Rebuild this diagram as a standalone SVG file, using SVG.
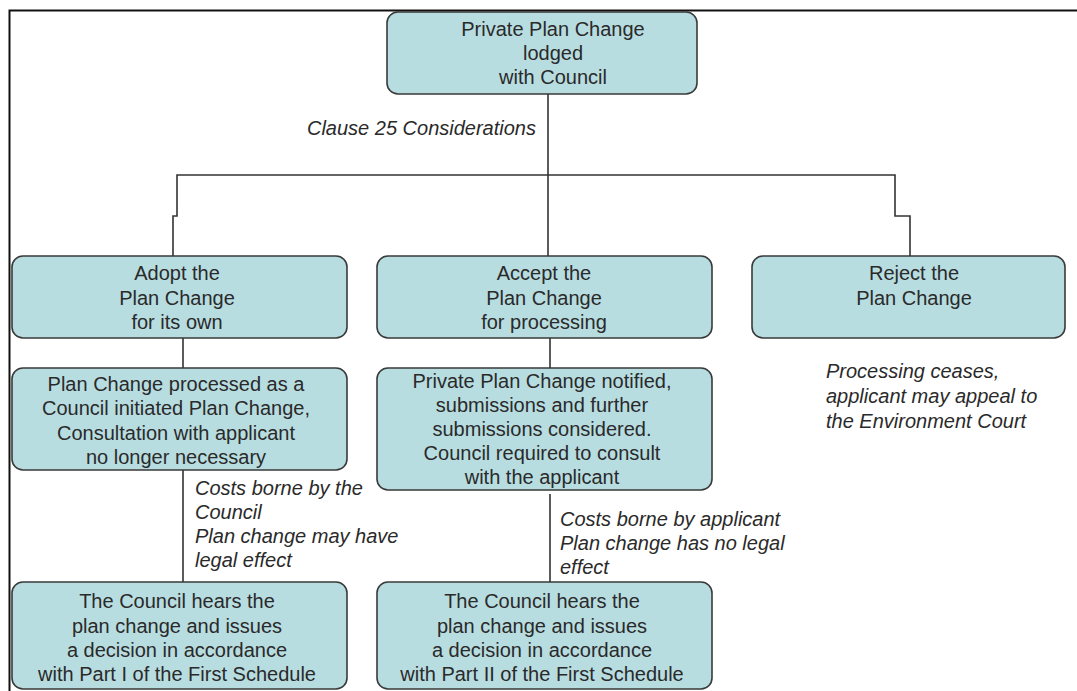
<svg xmlns="http://www.w3.org/2000/svg" width="1077" height="691" viewBox="0 0 1077 691">
<style>
.box{fill:#b8dde1;stroke:#3a3a3a;stroke-width:1.6}
.t{font-family:"Liberation Sans",Arial,sans-serif;font-size:20px;fill:#2a2a2a;text-anchor:middle}
.n{font-family:"Liberation Sans",Arial,sans-serif;font-size:20px;font-style:italic;fill:#2a2a2a}
.c{fill:none;stroke:#333;stroke-width:1.6}
</style>
<rect width="1077" height="691" fill="#fff"/>
<path d="M9.5 691 V10.5 H1077" fill="none" stroke="#111" stroke-width="2"/>
<g id="connectors">
<path class="c" d="M548 94 V256"/>
<path class="c" d="M173 256 V216 H177 V175 H895 V216 H910 V256"/>
<path class="c" d="M183 338 V368"/>
<path class="c" d="M550 338 V368"/>
<path class="c" d="M183 470 V582"/>
<path class="c" d="M550 494 V582"/>
</g>
<text class="n" x="536" y="135" text-anchor="end">Clause 25 Considerations</text>
<g id="n-lodged">
<rect class="box" x="387" y="12" width="310" height="82" rx="11"/>
<text class="t" x="553" y="36">Private Plan Change</text>
<text class="t" x="553" y="60">lodged</text>
<text class="t" x="553" y="84">with Council</text>
</g>
<g id="n-adopt">
<rect class="box" x="12" y="256" width="335" height="82" rx="11"/>
<text class="t" x="177" y="280">Adopt the</text>
<text class="t" x="177" y="305">Plan Change</text>
<text class="t" x="177" y="329">for its own</text>
</g>
<g id="n-accept">
<rect class="box" x="377" y="256" width="335" height="82" rx="11"/>
<text class="t" x="544" y="280">Accept the</text>
<text class="t" x="544" y="305">Plan Change</text>
<text class="t" x="544" y="329">for processing</text>
</g>
<g id="n-reject">
<rect class="box" x="752" y="256" width="313" height="82" rx="11"/>
<text class="t" x="914" y="280">Reject the</text>
<text class="t" x="914" y="305">Plan Change</text>
</g>
<g id="n-council-processed">
<rect class="box" x="12" y="368" width="335" height="102" rx="11"/>
<text class="t" x="176" y="391">Plan Change processed as a</text>
<text class="t" x="176" y="415">Council initiated Plan Change,</text>
<text class="t" x="176" y="440">Consultation with applicant</text>
<text class="t" x="176" y="464">no longer necessary</text>
</g>
<g id="n-notified">
<rect class="box" x="377" y="368" width="335" height="122" rx="11"/>
<text class="t" x="542" y="388">Private Plan Change notified,</text>
<text class="t" x="542" y="412">submissions and further</text>
<text class="t" x="542" y="436">submissions considered.</text>
<text class="t" x="542" y="460">Council required to consult</text>
<text class="t" x="542" y="484">with the applicant</text>
</g>
<g id="n-part1">
<rect class="box" x="12" y="582" width="335" height="107" rx="11"/>
<text class="t" x="177" y="608">The Council hears the</text>
<text class="t" x="177" y="633">plan change and issues</text>
<text class="t" x="177" y="657">a decision in accordance</text>
<text class="t" x="177" y="681">with Part I of the First Schedule</text>
</g>
<g id="n-part2">
<rect class="box" x="377" y="582" width="335" height="107" rx="11"/>
<text class="t" x="542" y="608">The Council hears the</text>
<text class="t" x="542" y="633">plan change and issues</text>
<text class="t" x="542" y="657">a decision in accordance</text>
<text class="t" x="542" y="681">with Part II of the First Schedule</text>
</g>
<g id="notes">
<text class="n" x="826" y="378">Processing ceases,</text>
<text class="n" x="826" y="403">applicant may appeal to</text>
<text class="n" x="826" y="428">the Environment Court</text>
<text class="n" x="195" y="495">Costs borne by the</text>
<text class="n" x="195" y="519">Council</text>
<text class="n" x="195" y="543">Plan change may have</text>
<text class="n" x="195" y="567">legal effect</text>
<text class="n" x="560" y="526">Costs borne by applicant</text>
<text class="n" x="560" y="550">Plan change has no legal</text>
<text class="n" x="560" y="574">effect</text>
</g>
</svg>
